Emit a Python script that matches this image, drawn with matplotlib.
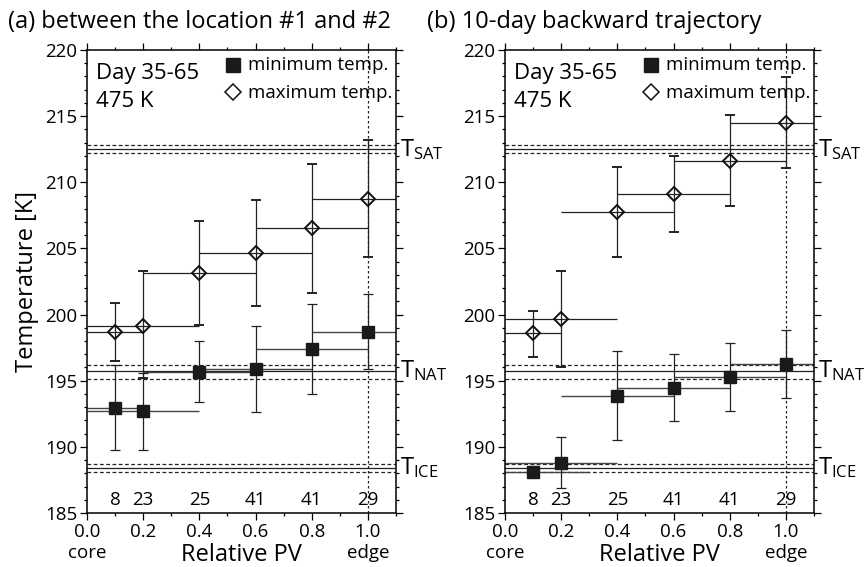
import matplotlib
matplotlib.use("Agg")
import matplotlib.pyplot as plt
from matplotlib.ticker import MultipleLocator, FixedLocator

plt.rcParams["font.family"] = ["Open Sans", "DejaVu Sans"]
plt.rcParams["mathtext.default"] = "regular"

# relative PV bins and sample counts
pv = [0.1, 0.2, 0.4, 0.6, 0.8, 1.0]
counts = [8, 23, 25, 41, 41, 29]

# (a) between location #1 and #2
a_min = [192.96, 192.74, 195.69, 195.89, 197.37, 198.71]
a_min_lo = [189.8, 189.8, 193.42, 192.6, 194.02, 195.86]
a_min_hi = [196.2, 195.6, 198.0, 199.16, 200.77, 201.53]
a_min_xerr = [0.1, 0.2, 0.2, 0.2, 0.2, 0.2]
a_max = [198.71, 199.16, 203.12, 204.68, 206.52, 208.74]
a_max_lo = [196.5, 195.2, 199.21, 200.67, 201.66, 204.33]
a_max_hi = [200.9, 203.29, 207.07, 208.66, 211.38, 213.2]
a_max_xerr = [0.1, 0.2, 0.2, 0.2, 0.2, 0.2]

# (b) 10-day backward trajectory
b_min = [188.13, 188.81, 193.85, 194.42, 195.31, 196.26]
b_min_lo = [188.0, 186.86, 190.52, 191.98, 192.74, 193.72]
b_min_hi = [188.3, 190.77, 197.27, 197.02, 197.88, 198.83]
b_min_xerr = [0.2, 0.2, 0.2, 0.2, 0.2, 0.2]
b_max = [198.58, 199.64, 207.73, 209.11, 211.63, 214.51]
b_max_lo = [196.82, 196.01, 204.38, 206.27, 208.23, 211.1]
b_max_hi = [200.3, 203.29, 211.18, 211.99, 215.1, 217.93]
b_max_xerr = [0.1, 0.2, 0.2, 0.2, 0.2, 0.2]

# threshold temperatures (centre, upper, lower)
thresholds = {"SAT": (212.5, 212.85, 212.25),
              "NAT": (195.75, 196.2, 195.15),
              "ICE": (188.4, 188.7, 188.1)}

titles = ["(a) between the location #1 and #2", "(b) 10-day backward trajectory"]

fig = plt.figure(figsize=(8.65, 5.67), dpi=100)
ax_a = fig.add_axes([87 / 865, 54 / 567, 309 / 865, 463 / 567])
ax_b = fig.add_axes([505 / 865, 54 / 567, 309 / 865, 463 / 567])

panels = [
    (ax_a, a_min, a_min_lo, a_min_hi, a_min_xerr, a_max, a_max_lo, a_max_hi, a_max_xerr),
    (ax_b, b_min, b_min_lo, b_min_hi, b_min_xerr, b_max, b_max_lo, b_max_hi, b_max_xerr),
]

lc = "#222222"
for i, (ax, mn, mn_lo, mn_hi, mn_xe, mx, mx_lo, mx_hi, mx_xe) in enumerate(panels):
    # threshold lines
    for name, (c, hi, lo) in thresholds.items():
        ax.axhline(c, color=lc, lw=0.9, zorder=1)
        ax.axhline(hi, color=lc, lw=0.9, ls=(0, (3, 2)), zorder=1)
        ax.axhline(lo, color=lc, lw=0.9, ls=(0, (3, 2)), zorder=1)
        ax.text(1.012, c, r"T$_{%s}$" % name, transform=ax.get_yaxis_transform(),
                fontsize=17, va="center", ha="left")
    ax.axvline(1.0, color=lc, lw=0.9, ls=(0, (2, 2)), zorder=1)

    yerr_min = [[m - l for m, l in zip(mn, mn_lo)], [h - m for m, h in zip(mn, mn_hi)]]
    yerr_max = [[m - l for m, l in zip(mx, mx_lo)], [h - m for m, h in zip(mx, mx_hi)]]
    # horizontal bin extent, no caps
    ax.errorbar(pv, mx, xerr=mx_xe, fmt="none", ecolor=lc, elinewidth=0.9,
                capsize=0, zorder=2)
    ax.errorbar(pv, mn, xerr=mn_xe, fmt="none", ecolor="#444444", elinewidth=1.0,
                capsize=0, zorder=2)
    # vertical spread with caps
    ax.errorbar(pv, mx, yerr=yerr_max, fmt="D", ms=7, mfc="none",
                mec="#111111", mew=1.4, ecolor=lc, elinewidth=0.9, capsize=3.5,
                capthick=0.9, zorder=3)
    ax.errorbar(pv, mn, yerr=yerr_min, fmt="s", ms=8.5, mfc="#1a1a1a",
                mec="#1a1a1a", ecolor=lc, elinewidth=0.9, capsize=3.5,
                capthick=0.9, zorder=3)

    for x, n in zip(pv, counts):
        ax.text(x, 186.0, str(n), ha="center", va="center", fontsize=13.5)

    ax.set_xlim(0, 1.1)
    ax.set_ylim(185, 220)
    ax.xaxis.set_major_locator(FixedLocator([0.0, 0.2, 0.4, 0.6, 0.8, 1.0]))
    ax.xaxis.set_minor_locator(MultipleLocator(0.1))
    ax.set_xticklabels(["0.0\ncore", "0.2", "0.4", "0.6", "0.8", "1.0\nedge"])
    ax.yaxis.set_major_locator(MultipleLocator(5))
    ax.yaxis.set_minor_locator(MultipleLocator(1))
    ax.tick_params(which="both", direction="out", top=True, right=True,
                   labelsize=13.5, width=0.9, pad=2)
    ax.tick_params(which="major", length=5)
    ax.tick_params(which="minor", length=2.5)
    for s in ax.spines.values():
        s.set_linewidth(1.1)

    ax.set_xlabel("Relative PV", fontsize=17)
    ax.xaxis.set_label_coords(0.5, -0.064)

    ax.text(0.029, 0.973, "Day 35-65\n475 K", transform=ax.transAxes, fontsize=16,
            va="top", ha="left", linespacing=1.45)
    ax.plot([0.474], [0.968], "s", ms=9.5, color="#1a1a1a", transform=ax.transAxes,
            clip_on=False)
    ax.plot([0.474], [0.910], "D", ms=8.5, mfc="none", mec="#111111", mew=1.1,
            transform=ax.transAxes, clip_on=False)
    ax.text(0.521, 0.968, "minimum temp.", transform=ax.transAxes, fontsize=13.5,
            va="center", ha="left")
    ax.text(0.521, 0.908, "maximum temp.", transform=ax.transAxes, fontsize=13.5,
            va="center", ha="left")

    fig.text([8 / 865, 427 / 865][i], 1 - 22 / 567, titles[i], fontsize=17,
             va="center", ha="left")

ax_a.set_ylabel("Temperature [K]", fontsize=17, labelpad=4)

fig.savefig("out.png", dpi=100)
